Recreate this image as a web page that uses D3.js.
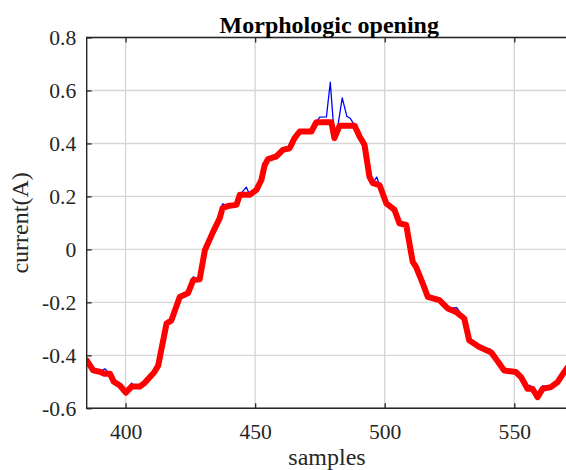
<!DOCTYPE html>
<html>
<head>
<meta charset="utf-8">
<script src="https://cdn.jsdelivr.net/npm/d3@7"></script>
<style>
  html, body { margin: 0; padding: 0; background: #fff; }
  svg { display: block; }
  text { font-family: "Liberation Serif", "Times New Roman", serif; }
</style>
</head>
<body>
<svg id="chart" width="566" height="470"></svg>
<script>
// ---- data ----
const titleText = "Morphologic opening";
const xLabel = "samples";
const yLabel = "current(A)";
const xTicks = [400, 450, 500, 550];
const yTicks = [-0.6, -0.4, -0.2, 0, 0.2, 0.4, 0.6, 0.8];

// opening result (red)
const redX = [385, 387.5, 390, 392, 394, 395.5, 397.8, 400.1, 402.3, 405.5, 407.5, 409.4, 411, 412.6,
  415.8, 417.7, 420.9, 424.1, 426.1, 428.6, 430.6, 433.8, 436.3, 437.4, 439.5, 442.8, 444.1, 447.9,
  450.5, 452.4, 453.7, 455, 458.2, 460.7, 463.3, 465.2, 467.2, 471.7, 473.6, 479.4, 480.6, 482.6,
  488.4, 490.3, 492.2, 494.1, 495.4, 498, 500.6, 503.8, 505.7, 508.3, 510.8, 512.1, 514.7, 516.6,
  521.1, 524.3, 527.5, 530.7, 532.6, 536.5, 541, 542.9, 546.1, 550.6, 552.6, 555.1, 557, 559,
  560.9, 564.1, 566.7, 569.3, 571];
const redY = [-0.419, -0.457, -0.462, -0.47, -0.47, -0.50, -0.514, -0.541, -0.518, -0.518, -0.503, -0.482, -0.465, -0.438,
  -0.280, -0.268, -0.18, -0.165, -0.116, -0.113, -0.003, 0.067, 0.117, 0.155, 0.164, 0.168, 0.206, 0.206,
  0.225, 0.262, 0.319, 0.341, 0.351, 0.376, 0.382, 0.42, 0.445, 0.445, 0.48, 0.48, 0.42, 0.467,
  0.467, 0.426, 0.395, 0.275, 0.25, 0.243, 0.174, 0.149, 0.098, 0.092, -0.047, -0.066, -0.129, -0.179,
  -0.192, -0.223, -0.236, -0.261, -0.343, -0.369, -0.388, -0.413, -0.457, -0.463, -0.482, -0.526, -0.526, -0.558,
  -0.526, -0.52, -0.501, -0.463, -0.44];

// original signal (blue)
const blueX = [385, 387.5, 388.2, 390, 392, 394, 395.5, 397.8, 400.1, 402.3, 403.5, 405.5, 407.5, 409.4, 411, 412.6,
  415.8, 417.7, 420.9, 424.1, 426.1, 428.6, 430.6, 433.8, 436.3, 437.4, 439.5, 442.8, 444.1, 446.6, 447.9,
  450.5, 452.4, 453.7, 455, 458.2, 460.7, 463.3, 465.2, 467.2, 471.7, 473.6, 474.9, 477.5, 479, 480.6, 482,
  483.6, 485.4, 486.7, 488.4, 490.3, 492.2, 494.1, 495.4, 496.9, 498, 500.6, 503.8, 505.7, 508.3, 510.8, 512.1,
  514.7, 516.6, 517.5, 521.1, 524.3, 527.8, 530.7, 532.6, 536.5, 540.7, 542.9, 546.1, 550.6, 552.6, 555.1, 556,
  557, 559, 560.9, 564.1, 566.7, 569.3, 571];
const blueY = [-0.419, -0.457, -0.451, -0.462, -0.451, -0.47, -0.50, -0.514, -0.541, -0.505, -0.515, -0.518, -0.503, -0.482, -0.465, -0.438,
  -0.280, -0.268, -0.18, -0.165, -0.104, -0.113, -0.003, 0.067, 0.117, 0.172, 0.164, 0.168, 0.206, 0.235, 0.206,
  0.225, 0.262, 0.319, 0.341, 0.351, 0.376, 0.382, 0.42, 0.452, 0.45, 0.48, 0.499, 0.50, 0.631, 0.42, 0.47,
  0.572, 0.502, 0.495, 0.467, 0.426, 0.395, 0.275, 0.25, 0.273, 0.243, 0.174, 0.149, 0.098, 0.092, -0.047, -0.066,
  -0.129, -0.179, -0.173, -0.192, -0.223, -0.22, -0.261, -0.343, -0.369, -0.376, -0.413, -0.457, -0.455, -0.482, -0.526, -0.513,
  -0.526, -0.558, -0.515, -0.52, -0.501, -0.463, -0.44];

// ---- layout ----
const plotLeft = 86.7, plotTop = 37.5, plotBottom = 408.3, plotRight = 571.3;
const x = d3.scaleLinear().domain([385, 572]).range([plotLeft, plotRight]);
const y = d3.scaleLinear().domain([-0.6, 0.8]).range([plotBottom, plotTop]);

const svg = d3.select("#chart");
const axisColor = "#262626";
const tickFont = 21.6, labelFont = 24;

// clip
svg.append("defs").append("clipPath").attr("id", "clip")
  .append("rect").attr("x", plotLeft).attr("y", plotTop)
  .attr("width", plotRight - plotLeft).attr("height", plotBottom - plotTop);

// grid
const grid = svg.append("g").attr("stroke", "#d6d6d6").attr("stroke-width", 1.4);
grid.selectAll(".gx").data(xTicks).join("line")
  .attr("x1", d => x(d)).attr("x2", d => x(d))
  .attr("y1", plotTop).attr("y2", plotBottom);
grid.selectAll(".gy").data(yTicks).join("line")
  .attr("x1", plotLeft).attr("x2", plotRight)
  .attr("y1", d => y(d)).attr("y2", d => y(d));

// data lines
const line = d3.line().x(d => x(d[0])).y(d => y(d[1]));
const plot = svg.append("g").attr("clip-path", "url(#clip)");
plot.append("path")
  .datum(blueX.map((v, i) => [v, blueY[i]]))
  .attr("d", line).attr("fill", "none")
  .attr("stroke", "#0000ff").attr("stroke-width", 1.3)
  .attr("stroke-linejoin", "round");
plot.append("path")
  .datum(redX.map((v, i) => [v, redY[i]]))
  .attr("d", line).attr("fill", "none")
  .attr("stroke", "#ff0000").attr("stroke-width", 6)
  .attr("stroke-linejoin", "round").attr("stroke-linecap", "round");

// axes (inward ticks)
const bottomAxis = d3.axisBottom(x).tickValues(xTicks).tickSize(-5).tickFormat(d3.format("d"));
const gb = svg.append("g").attr("transform", `translate(0,${plotBottom})`).call(bottomAxis);
gb.select(".domain").remove();
gb.selectAll(".tick line").attr("stroke", axisColor).attr("stroke-width", 1.3);
gb.selectAll(".tick text").attr("y", 31).attr("dy", null)
  .attr("fill", axisColor).attr("font-size", tickFont)
  .attr("font-family", '"Liberation Serif", "Times New Roman", serif');

const topAxis = d3.axisTop(x).tickValues(xTicks).tickSize(-5).tickFormat("");
const gt = svg.append("g").attr("transform", `translate(0,${plotTop})`).call(topAxis);
gt.select(".domain").remove();
gt.selectAll(".tick line").attr("stroke", axisColor).attr("stroke-width", 1.3);

const fmtY = d => d === 0 ? "0" : d3.format(".1f")(d).replace("−", "-");
const leftAxis = d3.axisLeft(y).tickValues(yTicks).tickSize(-5).tickFormat(fmtY);
const gl = svg.append("g").attr("transform", `translate(${plotLeft},0)`).call(leftAxis);
gl.select(".domain").remove();
gl.selectAll(".tick line").attr("stroke", axisColor).attr("stroke-width", 1.3);
gl.selectAll(".tick text").attr("x", -10.5).attr("dy", "0.34em")
  .attr("fill", axisColor).attr("font-size", tickFont)
  .attr("font-family", '"Liberation Serif", "Times New Roman", serif');

// box lines
const box = svg.append("g").attr("stroke", axisColor).attr("stroke-width", 1.4);
box.append("line").attr("x1", plotLeft).attr("x2", plotLeft).attr("y1", plotTop - 0.7).attr("y2", plotBottom + 0.7);
box.append("line").attr("x1", plotLeft).attr("x2", plotRight).attr("y1", plotBottom).attr("y2", plotBottom);
box.append("line").attr("x1", plotLeft).attr("x2", plotRight).attr("y1", plotTop).attr("y2", plotTop);

// labels
svg.append("text").attr("x", 329.3).attr("y", 32.5).attr("text-anchor", "middle")
  .attr("font-size", labelFont).attr("font-weight", "bold").attr("fill", "#000")
  .text(titleText);
svg.append("text").attr("x", 327).attr("y", 464.5).attr("text-anchor", "middle")
  .attr("font-size", labelFont).attr("fill", axisColor)
  .text(xLabel);
svg.append("text").attr("transform", `translate(28,${(plotTop + plotBottom) / 2}) rotate(-90)`)
  .attr("text-anchor", "middle")
  .attr("font-size", labelFont).attr("fill", axisColor)
  .text(yLabel);
</script>
</body>
</html>
